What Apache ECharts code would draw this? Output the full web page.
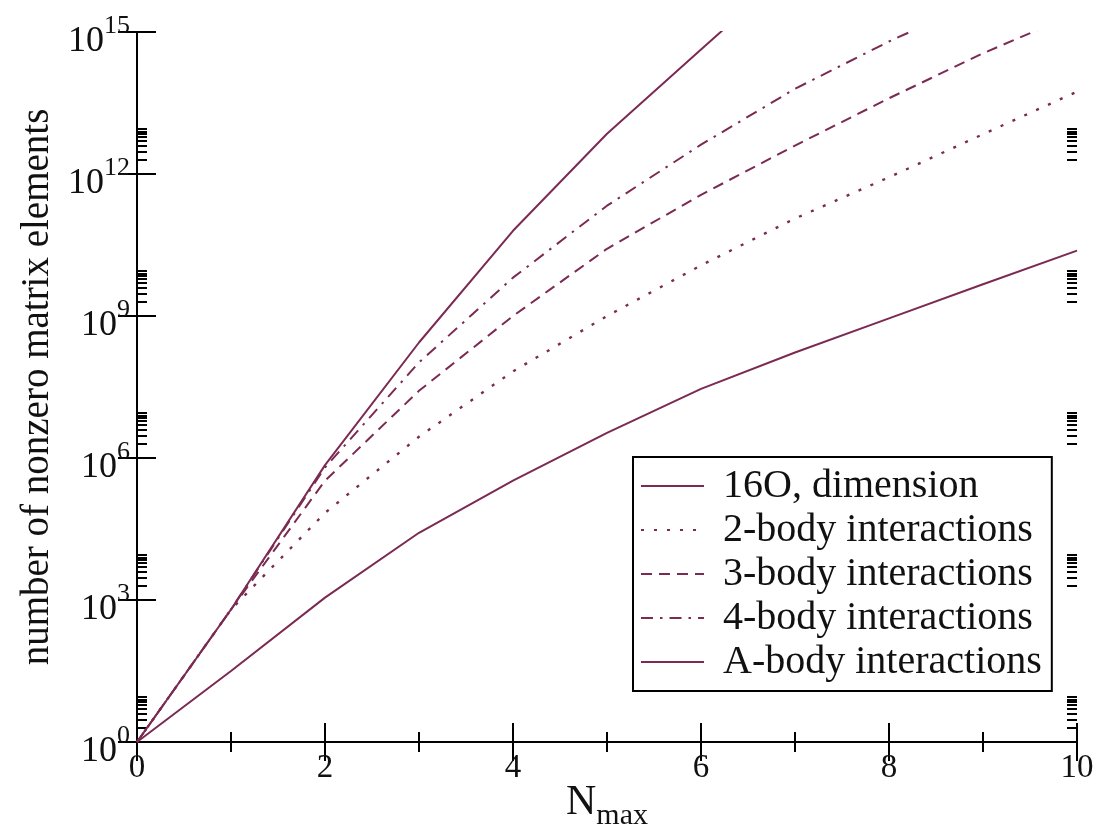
<!DOCTYPE html>
<html>
<head>
<meta charset="utf-8">
<script src="https://cdn.jsdelivr.net/npm/echarts@6/dist/echarts.min.js"></script>
<style>
  html, body { margin: 0; padding: 0; background: #fff; }
  #chart { width: 1115px; height: 829px; }
</style>
</head>
<body>
<div id="chart"></div>
<script>
// N_max values
const nmax = [0, 1, 2, 3, 4, 5, 6, 7, 8, 9, 10];
// log10 of counts
const dimensionLog = [0, 1.5, 3.05, 4.42, 5.52, 6.53, 7.46, 8.23, 8.95, 9.67, 10.38];
const twoBodyLog   = [0, 2.8, 4.84, 6.45, 7.83, 9.0, 10.07, 11.06, 11.93, 12.84, 13.74];
const threeBodyLog = [0, 2.8, 5.52, 7.42, 9.0, 10.42, 11.56, 12.6, 13.6, 14.55, 15.4];
const fourBodyLog  = [0, 2.8, 5.8, 8.02, 9.81, 11.33, 12.62, 13.8, 14.8, 15.7, 16.5];
const aBodyLog     = [0, 2.8, 5.85, 8.44, 10.8, 12.85, 14.63, 16.4, 17.9, 19.3, 20.7];
const seriesNames = ['16O, dimension', '2-body interactions', '3-body interactions', '4-body interactions', 'A-body interactions'];
// y tick exponents
const yMajorExp = [0, 3, 6, 9, 12, 15];
const xTickLabels = [0, 2, 4, 6, 8, 10];

const FONT = 'Liberation Serif';
const TXT = '#111111';
const LINE = '#7b2a52';

const yMinor = [];
yMajorExp.slice(0, -1).forEach(k => { for (let m = 2; m <= 9; m++) yMinor.push(k + Math.log10(m)); });

const pair = arr => nmax.map((n, i) => [n, arr[i]]);

const axisLineStyle = { show: true, lineStyle: { color: '#000', width: 2 } };
const majorTick = { show: true, inside: true, length: 19, lineStyle: { color: '#000', width: 2 } };

const chart = echarts.init(document.getElementById('chart'), null, { renderer: 'canvas' });
const mk = (name, data, type, w) => ({
  name, type: 'line', data: pair(data), symbol: 'none', showSymbol: false,
  xAxisIndex: 0, yAxisIndex: 0, clip: true,
  lineStyle: { color: LINE, width: w || 2, type: type },
  itemStyle: { color: LINE, opacity: 0 },
  emphasis: { disabled: true }, animation: false
});

chart.setOption({
  animation: false,
  grid: { left: 137, right: 38, top: 32, bottom: 87, containLabel: false, outerBoundsMode: 'none' },
  xAxis: [
    {
      type: 'value', min: 0, max: 10, interval: 2, position: 'bottom',
      axisLine: axisLineStyle, axisTick: majorTick,
      minorTick: { show: true, splitNumber: 2, length: 10, lineStyle: { color: '#000', width: 2 } },
      splitLine: { show: false }, minorSplitLine: { show: false },
      axisLabel: { show: true, fontSize: 33, fontFamily: FONT, color: TXT, margin: 10,
        showMinLabel: true, showMaxLabel: true,
        customValues: xTickLabels },
      name: '{n|N}{m|max}', nameLocation: 'middle', nameGap: 33, nameMoveOverlap: false,
      nameTextStyle: { rich: {
        n: { fontSize: 42, fontFamily: FONT, color: TXT },
        m: { fontSize: 30, fontFamily: FONT, color: TXT, padding: [26, 0, 0, 0] }
      } }
    },
    {
      type: 'value', min: 0, max: 10, interval: 2, position: 'top',
      axisLine: axisLineStyle, axisTick: majorTick,
      minorTick: { show: true, splitNumber: 2, length: 10, lineStyle: { color: '#000', width: 2 } },
      splitLine: { show: false }, axisLabel: { show: false }
    }
  ],
  yAxis: [
    {
      type: 'value', min: 0, max: 15, interval: 3, position: 'left',
      axisLine: axisLineStyle, axisTick: majorTick, splitLine: { show: false },
      axisLabel: {
        show: true, margin: 7, showMinLabel: true, showMaxLabel: true,
        customValues: yMajorExp,
        padding: [0, 0, 10, 0],
        formatter: v => '{b|10}{s|' + v + '}',
        rich: {
          b: { fontSize: 36, fontFamily: FONT, color: TXT, padding: [30, 0, 0, 0] },
          s: { fontSize: 26, fontFamily: FONT, color: TXT, padding: [0, 0, 2, 0] }
        }
      },
      name: 'number of nonzero matrix elements', nameLocation: 'middle', nameGap: 80, nameRotate: 90,
      nameMoveOverlap: false,
      nameTextStyle: { fontSize: 39, fontFamily: FONT, color: TXT }
    },
    {
      type: 'value', min: 0, max: 15, interval: 3, position: 'right',
      axisLine: axisLineStyle, axisTick: majorTick, splitLine: { show: false },
      axisLabel: { show: false }
    },
    {
      type: 'value', min: 0, max: 15, position: 'left',
      axisLine: { show: false }, splitLine: { show: false }, axisLabel: { show: false },
      axisTick: { show: true, inside: true, length: 10, customValues: yMinor, lineStyle: { color: '#000', width: 2 } }
    },
    {
      type: 'value', min: 0, max: 15, position: 'right',
      axisLine: { show: false }, splitLine: { show: false }, axisLabel: { show: false },
      axisTick: { show: true, inside: true, length: 10, customValues: yMinor, lineStyle: { color: '#000', width: 2 } }
    }
  ],
  legend: {
    show: true, orient: 'vertical', left: 633, top: 457,
    data: seriesNames,
    itemWidth: 63, itemHeight: 20, itemGap: 0,
    padding: [7, 10, 7, 7],
    backgroundColor: '#fff', borderColor: '#000', borderWidth: 2,
    itemStyle: { opacity: 0 },
    textStyle: { fontSize: 40, fontFamily: FONT, color: TXT, lineHeight: 44, padding: [0, 0, 0, 14] },
    selectedMode: false
  },
  series: [
    mk(seriesNames[0], dimensionLog, 'solid'),
    mk(seriesNames[1], twoBodyLog, [3, 10], 2.4),
    mk(seriesNames[2], threeBodyLog, [11, 7]),
    mk(seriesNames[3], fourBodyLog, [12, 7, 2.5, 7]),
    mk(seriesNames[4], aBodyLog, 'solid')
  ]
});
</script>
</body>
</html>
